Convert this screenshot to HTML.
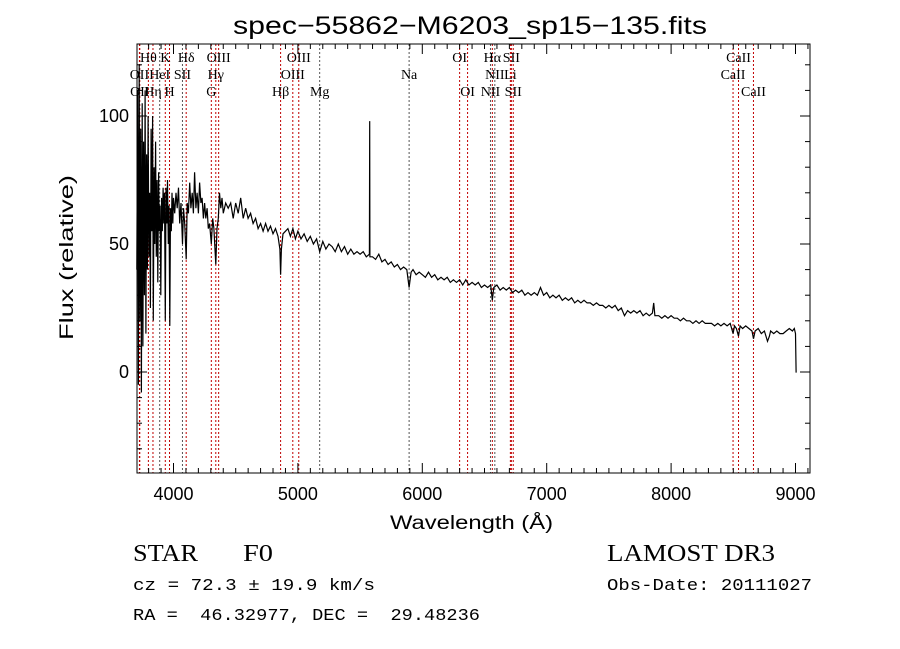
<!DOCTYPE html>
<html><head><meta charset="utf-8"><style>
body{margin:0;background:#fff;}
svg{display:block;}
text{font-family:"Liberation Sans",sans-serif;fill:#000;}
.lbl{font-family:"Liberation Serif",serif;font-size:14px;}
.mono{font-family:"Liberation Mono",monospace;}
.serif{font-family:"Liberation Serif",serif;}
</style></head><body>
<svg id="chart" width="900" height="649" viewBox="0 0 900 649" xmlns="http://www.w3.org/2000/svg">
<rect width="900" height="649" fill="#fff"/>
<text x="233" y="34" font-size="25" textLength="474" lengthAdjust="spacingAndGlyphs">spec−55862−M6203_sp15−135.fits</text>
<g id="lines"></g>
<g id="labels"></g>
<path id="spec" fill="none" stroke="#000" stroke-width="1.2"/>
<g id="axes"></g>
<rect x="137" y="44" width="673" height="429" fill="none" stroke="#000" stroke-width="1"/>
<text x="390" y="529" font-size="19" textLength="163" lengthAdjust="spacingAndGlyphs">Wavelength (Å)</text>
<text transform="translate(73,340) rotate(-90)" font-size="19" textLength="165" lengthAdjust="spacingAndGlyphs">Flux (relative)</text>
<text x="133" y="561" font-size="24" class="serif" textLength="65" lengthAdjust="spacingAndGlyphs">STAR</text>
<text x="243" y="561" font-size="24" class="serif" textLength="30" lengthAdjust="spacingAndGlyphs">F0</text>
<text x="607" y="561" font-size="24" class="serif" textLength="168" lengthAdjust="spacingAndGlyphs">LAMOST DR3</text>
<text x="133" y="590" font-size="17" class="mono" textLength="242" lengthAdjust="spacingAndGlyphs">cz = 72.3 ± 19.9 km/s</text>
<text x="607" y="590" font-size="17" class="mono" textLength="205" lengthAdjust="spacingAndGlyphs">Obs-Date: 20111027</text>
<text x="133" y="620" font-size="17" class="mono" textLength="347" lengthAdjust="spacingAndGlyphs" xml:space="preserve">RA =  46.32977, DEC =  29.48236</text>
</svg>
<script>
const wavelengths=[3705,3712,3718,3724,3730,3736,3742,3748,3754,3760,3766,3772,3778,3784,3790,3796,3802,3808,3814,3820,3826,3832,3838,3844,3850,3856,3862,3868,3874,3880,3886,3892,3898,3904,3910,3916,3922,3928,3934,3940,3946,3952,3958,3964,3970,3976,3982,3988,3994,4000,4010,4020,4030,4040,4050,4060,4072,4080,4090,4102,4110,4120,4130,4140,4150,4160,4170,4180,4190,4200,4210,4220,4230,4240,4250,4260,4270,4280,4290,4304,4315,4325,4340,4350,4360,4370,4380,4390,4400,4420,4440,4460,4480,4500,4520,4540,4560,4580,4600,4620,4640,4660,4680,4700,4720,4740,4760,4780,4800,4820,4840,4855,4861,4867,4880,4900,4920,4940,4960,4980,
5000,5025,5050,5075,5100,5125,5150,5175,5200,5225,5250,5275,5300,5325,5350,5375,5400,5425,5450,5475,5500,5525,5550,5575,5577,5579,5600,5625,5650,5675,5700,5725,5750,5775,5800,5825,5850,5875,5894,5910,5925,5950,5975,6000,6025,6050,6075,6100,6125,6150,6175,6200,6225,6250,6275,6300,6325,6350,6375,6400,6425,6450,6475,6500,6525,6550,6563,6575,6600,6625,6650,6675,6700,6725,6750,6775,6800,6825,6850,6875,6900,6925,6950,6975,7000,7025,7050,7075,7100,7125,7150,7175,7200,7225,7250,7275,7300,7325,7350,7375,7400,7425,7450,7475,7500,7525,7550,7575,7600,7625,7650,7675,7700,7725,7750,7775,7800,7825,7850,7860,7870,7900,7925,7950,7975,8000,8025,8050,8075,8100,8125,8150,8175,8200,8225,8250,8275,8300,8325,8350,8375,8400,8425,8450,8475,8498,8510,8525,8542,8555,8575,8600,8625,8650,8662,8675,8700,8725,8750,8775,8790,8800,8825,8850,8875,8900,8925,8950,8975,8990,9000,9005,9010];
const fluxes=[40,110,-5,120,20,95,-8,105,10,90,30,110,15,85,40,100,45,70,25,95,55,100,20,80,50,90,45,75,35,78,55,65,30,68,55,72,58,70,20,72,58,75,50,65,18,64,55,70,58,68,62,70,64,72,58,66,50,64,58,44,66,62,74,64,70,62,78,64,70,62,74,66,68,60,66,60,64,56,58,50,60,56,42,56,60,70,64,68,62,66,64,66,60,66,62,68,60,64,60,62,58,60,56,58,55,58,55,57,54,56,53,48,38,48,54,55,56,53,56,52,
55,52,54,51,53,50,52,47,51,48,50,49,47,50,47,49,46,48,46,47,46,47,45,46,98,45,45,44,46,43,44,42,43,41,42,40,41,40,33,39,40,38,39,38,37,39,37,38,36,37,36,37,35,36,35,36,34,36,34,35,34,35,33,34,33,34,28,33,34,32,33,32,33,31,32,31,32,30,31,30,31,30,33,30,31,29,30,29,30,28,29,28,29,27,28,27,28,27,27,26,27,26,26,25,26,25,26,24,25,22,24,23,24,23,24,22,23,22,23,27,22,22,21,22,21,22,21,21,20,21,20,20,19,20,19,20,19,19,19,18,19,18,19,18,19,15,18,17,14,18,17,18,17,16,13,16,17,15,16,12,14,16,15,16,15,15,16,17,16,17,15,0,0];
const xTicks=[4000,5000,6000,7000,8000,9000];
const yTicks=[0,50,100];
const lineWl=[3726,3729,3798,3835,3889,3934,3968,4072,4102,4304,4340,4363,4861,4959,5007,5175,5894,6300,6364,6548,6563,6583,6708,6716,6731,8498,8542,8662];
const labelText=["OII","OII","Hθ","Hη","HeI","K","H","SII","Hδ","G","Hγ","OIII","Hβ","OIII","OIII","Mg","Na","OI","OI","NII","Hα","NII","Li","SII","SII","CaII","CaII","CaII"];
const labelRow=[1,2,0,2,1,0,2,1,0,2,1,0,2,1,0,2,1,0,2,2,0,1,1,0,2,1,0,2];
const X=w=>173.5+(w-4000)*0.1244;
const Y=f=>372-f*2.56;
const NS="http://www.w3.org/2000/svg";
const lg=document.getElementById('lines'),lb=document.getElementById('labels'),ax=document.getElementById('axes');
lineWl.forEach((w,i)=>{
 const l=document.createElementNS(NS,'line');
 l.setAttribute('x1',X(w));l.setAttribute('x2',X(w));l.setAttribute('y1',44);l.setAttribute('y2',473);
 l.setAttribute('stroke',[3889,4072,5175,5894,6548,6583].includes(w)?'#555':'#c00000');
 l.setAttribute('stroke-width','1');l.setAttribute('stroke-dasharray','2,2');
 
 
 lg.appendChild(l);
 const t=document.createElementNS(NS,'text');
 t.setAttribute('x',X(w));t.setAttribute('y',62+labelRow[i]*17);t.setAttribute('class','lbl');t.setAttribute('text-anchor','middle');
 t.textContent=labelText[i];
 
 
 lb.appendChild(t);
});
let d='';
wavelengths.forEach((w,i)=>{d+=(i?'L':'M')+X(w).toFixed(1)+','+Y(fluxes[i]).toFixed(1);});
document.getElementById('spec').setAttribute('d',d);
function tick(x1,y1,x2,y2){const l=document.createElementNS(NS,'line');l.setAttribute('x1',x1);l.setAttribute('y1',y1);l.setAttribute('x2',x2);l.setAttribute('y2',y2);l.setAttribute('stroke','#000');
 
 
 ax.appendChild(l);}
for(let w=3800;w<=9100;w+=100){const x=X(w);const len=(w%1000===0)?10:5;tick(x,473,x,473-len);tick(x,44,x,44+len);}
for(let f=-30;f<=120;f+=10){const y=Y(f);const len=(f%50===0)?10:5;tick(137,y,137+len,y);tick(810,y,810-len,y);}
xTicks.forEach(w=>{const t=document.createElementNS(NS,'text');t.setAttribute('x',X(w));t.setAttribute('y',500);t.setAttribute('font-size','18');t.setAttribute('text-anchor','middle');t.textContent=w;
 
 
 ax.appendChild(t);});
yTicks.forEach(f=>{const t=document.createElementNS(NS,'text');t.setAttribute('x',129);t.setAttribute('y',Y(f)+6);t.setAttribute('font-size','18');t.setAttribute('text-anchor','end');t.textContent=f;
 
 
 ax.appendChild(t);});
</script>
</body></html>
